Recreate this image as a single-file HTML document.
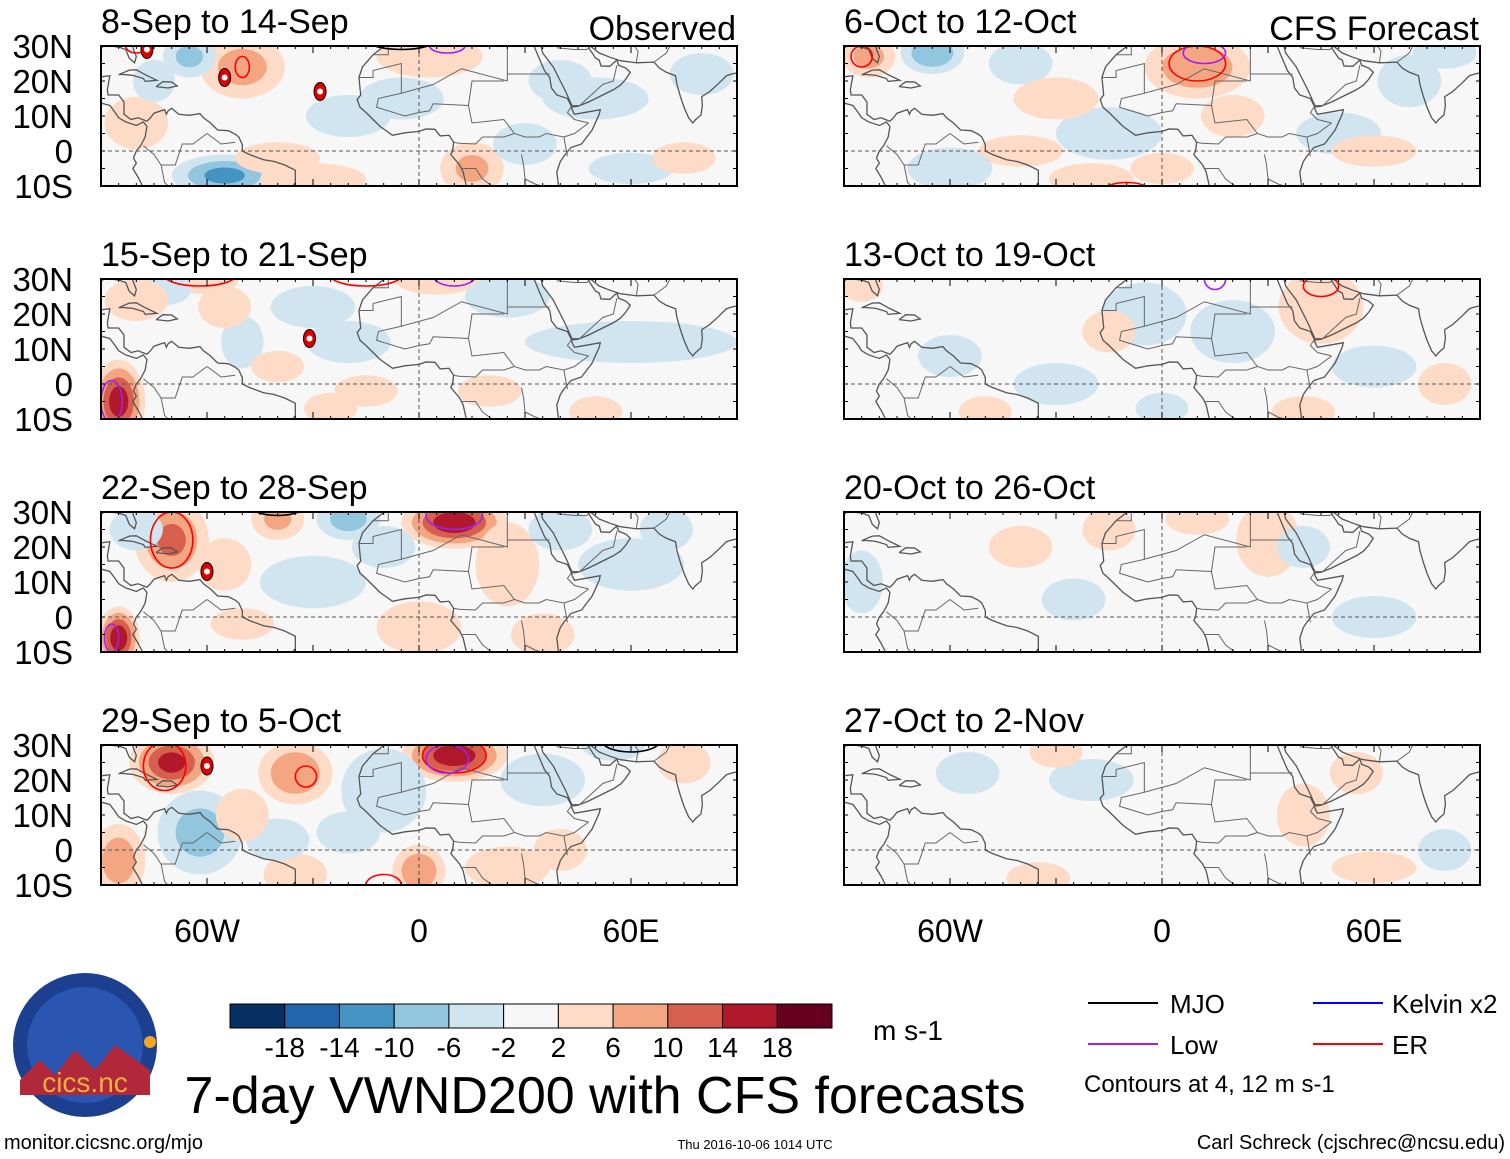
<!DOCTYPE html>
<html><head><meta charset="utf-8">
<style>
html,body{margin:0;padding:0;background:#fff;}
svg{display:block;font-family:"Liberation Sans",sans-serif;}
</style></head>
<body>
<svg id="chart" width="1510" height="1159" viewBox="0 0 1510 1159" xmlns="http://www.w3.org/2000/svg">
<g id="layer"></g>
<g>
<circle cx="85" cy="1045" r="72" fill="#1d3f8f"/>
<circle cx="85" cy="1045" r="58" fill="#2a55b0"/>
<path d="M20,1080 L40,1060 L55,1075 L75,1050 L95,1070 L115,1045 L150,1070 L150,1095 L20,1095 Z" fill="#b0283a"/>
<circle cx="150" cy="1042" r="6" fill="#f3a620"/>
<text x="85" y="1092" text-anchor="middle" font-size="28" fill="#f0b040">cics.nc</text>
</g>
<text x="605" y="1113" text-anchor="middle" font-size="52">7-day VWND200 with CFS forecasts</text>
<text x="873" y="1040" font-size="28">m s-1</text>
<text x="4" y="1149" font-size="20">monitor.cicsnc.org/mjo</text>
<text x="755" y="1149" text-anchor="middle" font-size="13">Thu 2016-10-06 1014 UTC</text>
<text x="1505" y="1149" text-anchor="end" font-size="20">Carl Schreck (cjschrec@ncsu.edu)</text>
<g font-size="26">
<line x1="1088" y1="1003" x2="1158" y2="1003" stroke="#000" stroke-width="2"/><text x="1170" y="1013">MJO</text>
<line x1="1088" y1="1044" x2="1158" y2="1044" stroke="#a020f0" stroke-width="2"/><text x="1170" y="1054">Low</text>
<line x1="1313" y1="1003" x2="1383" y2="1003" stroke="#0000ff" stroke-width="2"/><text x="1392" y="1013">Kelvin x2</text>
<line x1="1313" y1="1044" x2="1383" y2="1044" stroke="#ff0000" stroke-width="2"/><text x="1392" y="1054">ER</text>
<text x="1084" y="1092" font-size="24">Contours at 4, 12 m s-1</text>
</g>
</svg>
<script>
// ---- data ----
const panelTitles = ["8-Sep to 14-Sep","15-Sep to 21-Sep","22-Sep to 28-Sep","29-Sep to 5-Oct","6-Oct to 12-Oct","13-Oct to 19-Oct","20-Oct to 26-Oct","27-Oct to 2-Nov"];
const latTicks = ["30N","20N","10N","0","10S"];
const latValues = [30,20,10,0,-10];
const lonTicks = ["60W","0","60E"];
const lonValues = [-60,0,60];
const cbLabels = ["-18","-14","-10","-6","-2","2","6","10","14","18"];
const cbColors = ["#053061","#2166ac","#4393c3","#92c5de","#d1e5f0","#f7f7f7","#fddbc7","#f4a582","#d6604d","#b2182b","#67001f"];
// anomaly blobs: [lon, lat, lonRadius, latRadius, value m/s]
const blobs0 = [[-50,24,8,6,8],[-80,8,6,5,3],[-55,-7,10,4,-11],[-65,27,5,4,-7],[3,27,10,4,4],[15,-5,6,5,7],[30,2,6,4,-3],[-30,-8,10,3,3],[60,-5,8,3,-3],[75,-2,6,3,3],[-20,10,8,4,-3],[80,22,6,4,-3],[40,20,6,4,-3],[-75,20,4,4,-4],[-40,-2,8,3,3],[50,15,10,4,-3],[-5,15,8,4,-3]];
const blobs1 = [[-85,-5,5,8,16],[-60,30,6,3,6],[-72,27,5,3,-4],[-50,12,4,5,-4],[-30,22,8,4,-4],[-20,12,8,4,-5],[5,30,8,3,5],[-15,-2,6,3,3],[20,-2,6,3,4],[-40,5,5,3,3],[60,12,20,4,-3],[-25,-7,5,3,4],[50,-8,5,3,3],[-80,24,6,4,4],[-55,22,5,4,3],[25,25,8,4,-3]];
const blobs2 = [[-70,22,7,8,11],[10,27,10,5,17],[-85,-6,4,6,17],[-20,28,6,4,-8],[-40,28,5,4,7],[-80,25,5,4,-6],[0,-3,8,5,5],[25,15,6,8,5],[40,25,6,4,-4],[60,15,10,5,-3],[70,25,5,4,-4],[-50,-2,6,3,3],[-30,10,10,5,-3],[-55,15,5,5,4],[-10,20,6,4,-3],[35,-5,6,4,3]];
const blobs3 = [[-70,25,8,6,15],[-62,5,8,8,-8],[-35,22,7,6,10],[10,27,10,5,17],[0,-6,5,5,10],[-85,-3,5,7,9],[-35,-7,6,4,6],[-10,17,8,8,-6],[35,20,8,5,-6],[25,-5,8,4,4],[55,30,6,3,-4],[75,25,5,4,4],[-40,3,6,4,-4],[40,0,5,4,4],[-50,10,5,5,4],[-20,5,6,4,-3]];
const blobs4 = [[-65,28,6,4,-10],[-83,27,5,4,8],[10,24,10,6,10],[-15,5,10,5,-4],[-40,0,8,3,3],[20,10,6,4,4],[-20,-8,8,3,4],[0,-5,6,3,3],[50,5,8,4,-3],[70,20,6,5,-3],[60,0,8,3,3],[-60,-5,8,4,-3],[-40,25,6,4,-3],[80,28,6,3,-4],[-30,15,8,4,3]];
const blobs5 = [[45,22,8,7,6],[20,15,8,6,-3],[-5,20,8,6,-4],[-85,28,4,3,6],[-60,8,6,4,-3],[80,0,5,4,3],[40,-8,6,3,3],[60,5,8,4,-3],[-30,0,8,4,-3],[0,-7,5,3,-3],[-15,15,5,4,3],[-50,-8,5,3,3]];
const blobs6 = [[30,22,6,7,5],[-25,5,6,4,-3],[10,28,6,3,3],[-85,10,4,6,-3],[60,0,8,4,-3],[40,20,5,4,-3],[-15,25,5,4,3],[-40,20,6,4,3]];
const blobs7 = [[40,10,5,6,3],[-55,22,6,4,-3],[-20,20,8,4,-3],[60,-5,8,3,3],[-30,28,5,3,3],[80,0,5,4,-3],[55,22,5,4,3],[-35,-8,6,3,3]];
const allBlobs = [blobs0,blobs1,blobs2,blobs3,blobs4,blobs5,blobs6,blobs7];
// contours: [lon, lat, lonRadius, latRadius, type]
const contours0 = [[-50,24,2,3,"er"],[-80,30,3,2,"er"],[8,30,5,2,"low"],[-5,32,10,3,"mjo"]];
const contours1 = [[-62,31,10,3,"er"],[-15,31,10,3,"er"],[10,31,6,3,"low"],[-87,-5,3,6,"low"]];
const contours2 = [[-70,22,6,8,"er"],[10,29,8,4,"low"],[-40,32,8,3,"mjo"],[-87,-6,2,4,"low"]];
const contours3 = [[-72,24,6,7,"er"],[-32,21,3,3,"er"],[10,27,9,5,"er"],[8,26,6,4,"low"],[60,31,8,3,"mjo"],[-10,-10,5,3,"er"]];
const contours4 = [[-85,27,3,3,"er"],[10,25,8,5,"er"],[12,28,6,3,"low"],[-10,-11,6,2,"er"]];
const contours5 = [[15,30,3,3,"low"],[45,28,5,3,"er"]];
const contours6 = [];
const contours7 = [];
const allContours = [contours0,contours1,contours2,contours3,contours4,contours5,contours6,contours7];
// storm markers: [lon, lat]
const storms0 = [[-77,29],[-55,21],[-28,17]];
const storms1 = [[-31,13]];
const storms2 = [[-60,13]];
const storms3 = [[-60,24]];
const allStorms = [storms0,storms1,storms2,storms3,[],[],[],[]];
// coastlines [lon,lat]
const coastAfrica = [[-9.8,30],[-13,27.5],[-16,24],[-17,21],[-16.5,16],[-17.5,14.7],[-16.7,12.5],[-15,11],[-13,9],[-11,7],[-7.5,4.5],[-4,5.2],[0,5.6],[2,6.3],[4.5,6.2],[6,4.3],[8.5,4.5],[9.8,2.5],[9.5,0],[9,-1],[11.5,-4],[12.5,-6],[13.4,-10]];
const coastEastAfrica = [[39.5,-10],[39,-6],[40,-3],[41,-1.5],[43,1],[46,2],[49,6],[51,10.5],[51.3,11.8],[48,11.2],[44,10.5],[43.3,11.9],[43,13],[42,15],[39,16],[37.5,18],[37,21],[35.5,23],[34,26.5],[32.6,29.9],[32.5,30.5]];
const coastAsia = [[34.5,30],[35,28],[36.5,26],[38,24],[39,22],[40,20],[41.5,17],[42.8,14],[43.5,12.6],[45,12.8],[48,14],[52,16],[55,17.5],[57,18.8],[58.5,20.5],[59.8,22.5],[58.5,23.7],[56.5,24.5],[56,26],[54,24.2],[51.5,24.3],[51,26],[50,26.5],[48,29.5],[48.5,30],[51,28],[54,26.8],[57,25.8],[61.5,25.2],[66.5,25.4],[68,23.7],[70,22.5],[72.6,21.5],[73,19],[74,15.5],[75,12.5],[76.3,9.5],[77.5,8],[78.2,8.9],[79.8,10.3],[80.2,13],[80,15.5],[82.3,17],[84.8,19.3],[87,21.5],[88.5,22],[91,22.5]];
const coastSAmericaW = [[-90,13.7],[-87.5,13],[-86,11],[-85,9.5],[-83,8.3],[-80,7.3],[-78,8.3],[-77,7],[-77.5,4],[-78.8,1.5],[-80,0],[-80.8,-2],[-80,-3.5],[-81,-5],[-79.5,-7.5],[-78,-10.5]];
const coastSAmericaN = [[-90,21.2],[-87.5,21.5],[-88.2,17.5],[-88,16],[-85,16],[-83.5,14],[-83.5,10.5],[-81.5,9],[-79.5,9.5],[-77,8.5],[-76,9.5],[-75,10.8],[-73,11.5],[-72,11.8],[-71.5,10.5],[-71,11.5],[-70,12.2],[-68,10.5],[-65,10.2],[-62,10.7],[-61,9.5],[-59,8],[-57,6],[-54,5.8],[-52,4.8],[-51,4],[-50,1.8],[-50,0],[-48,-1],[-44,-2.5],[-41,-3],[-38,-4],[-35,-5.5],[-35,-9],[-36,-10.5]];
const coastFlorida = [[-90,29.3],[-89,30.2],[-85,29.7],[-83,29],[-82,26.5],[-80.5,25.2],[-80,27],[-80.6,28.5],[-81.3,30.5]];
const coastCuba = [[-85,21.8],[-82,23.1],[-80,23.2],[-77.5,21.8],[-74.2,20.2],[-77.5,19.9],[-78,20.7],[-81,21.6],[-84,21.9],[-85,21.8]];
const coastHispaniola = [[-74.4,18.4],[-72.5,19.8],[-70,19.7],[-68.4,18.6],[-71,18],[-74.4,18.4]];
const coastMadagascar = [[49.3,-12],[50.3,-15],[47,-15.5],[44,-17]];
const coasts = [coastAfrica,coastEastAfrica,coastAsia,coastSAmericaW,coastSAmericaN,coastFlorida,coastCuba,coastHispaniola,coastMadagascar];
const borders = [[[-13,27.5],[-8.7,27.5],[-8.7,30]],[[-17,21],[-13,21],[-13,23],[-5,25],[-5,16.5],[4,19],[12,23.5],[25,20],[25,30]],[[25,22],[37,22]],[[-5,16.5],[-11.5,15],[-12,12.5],[-4,10],[0,11],[3,11.5],[4,13.5],[14,13],[15,8],[24,9],[27,5],[30,4],[34,4],[36,5],[41,4],[42,-1.5]],[[9.8,2.5],[11.3,2.2],[16,2],[18,4],[24,4],[27,5]],[[12,-5],[16,-5],[18,-8],[22,-11]],[[29,-1],[29.6,-4],[30,-8],[33,-9.5],[38,-11]],[[14,13],[15,20],[24,20]],[[-60,5],[-62,3.5],[-64,2],[-67,2],[-69,-4],[-73,-4],[-75,-1],[-78,1.5]],[[-60,5],[-56,2],[-52,2.5]],[[-73,-4],[-72,-9],[-70,-11]],[[43,13],[45.5,13],[52,19],[55,20],[56,24.5]],[[39,29.5],[44,29],[47.5,29],[48.5,30]],[[61.5,25.2],[62,28.5],[61,30]],[[66.5,25.4],[70,28],[71,30]],[[48,8],[44,5],[41,4]],[[43,12.5],[42,11],[44,9],[48,8]]];

// ---- layout ----
const NS="http://www.w3.org/2000/svg";
const layer=document.getElementById('layer');
const panelX=[101,844];
const panelY=[46,279,512,745];
const PW=636, PH=140;
const BLOB_SCALE=1.5;
function el(tag,attrs,parent){const e=document.createElementNS(NS,tag);for(const k in attrs)e.setAttribute(k,attrs[k]);(parent||layer).appendChild(e);return e;}
function colorFor(v){const edges=[-18,-14,-10,-6,-2,2,6,10,14,18];let i=0;while(i<edges.length&&v>=edges[i])i++;return cbColors[i];}
const contourColor={er:"#ff0000",low:"#a020f0",mjo:"#000000",kelvin:"#0000ff"};

for(let p=0;p<8;p++){
  const col=p<4?0:1,row=p%4;
  const x0=panelX[col],y0=panelY[row];
  const xs=lon=>x0+(lon+90)/180*PW;
  const ys=lat=>y0+(30-lat)/40*PH;
  const kx=PW/180,ky=PH/40;
  const g=el('g',{});
  
  
  const cp=el('clipPath',{id:'clip'+p},g);
  el('rect',{x:x0,y:y0,width:PW,height:PH},cp);
  el('rect',{x:x0,y:y0,width:PW,height:PH,fill:'#f7f7f7'},g);
  const inner=el('g',{'clip-path':'url(#clip'+p+')'},g);
  allBlobs[p].forEach(b=>{
    const [lon,lat,rl,rt,v]=b;const a=Math.abs(v),s=Math.sign(v);
    for(let lv=2;lv<a;lv+=4){
      const f=BLOB_SCALE*(1-0.85*(lv-2)/a);
      const e=el('ellipse',{cx:xs(lon),cy:ys(lat),rx:rl*kx*f,ry:rt*ky*f,fill:colorFor(s*(lv+0.5))},inner);
      
      
    }
  });
  coasts.forEach(c=>{
    const pl=el('polyline',{points:c.map(q=>xs(q[0])+','+ys(q[1])).join(' '),fill:'none',stroke:'#555','stroke-width':1.3},inner);
    
    
  });
  borders.forEach(c=>{
    const pl=el('polyline',{points:c.map(q=>xs(q[0])+','+ys(q[1])).join(' '),fill:'none',stroke:'#666','stroke-width':1},inner);
    
    
  });
  el('line',{x1:x0,y1:ys(0),x2:x0+PW,y2:ys(0),stroke:'#555','stroke-dasharray':'4,3','stroke-width':1},inner);
  el('line',{x1:xs(0),y1:y0,x2:xs(0),y2:y0+PH,stroke:'#555','stroke-dasharray':'4,3','stroke-width':1},inner);
  allContours[p].forEach(c=>{
    const e=el('ellipse',{cx:xs(c[0]),cy:ys(c[1]),rx:c[2]*kx,ry:c[3]*ky,fill:'none',stroke:contourColor[c[4]],'stroke-width':1.6},inner);
    
    
  });
  allStorms[p].forEach(s=>{
    const sg=el('g',{},inner);
    
    
    el('ellipse',{cx:xs(s[0]),cy:ys(s[1]),rx:6,ry:9,fill:'#e00000',stroke:'#000','stroke-width':1},sg);
    el('circle',{cx:xs(s[0]),cy:ys(s[1]),r:3,fill:'#fff'},sg);
  });
  el('rect',{x:x0,y:y0,width:PW,height:PH,fill:'none',stroke:'#000','stroke-width':2},g);
  for(let lon=-90;lon<=90;lon+=5){
    const len=lon%30===0?7:3;
    el('line',{x1:xs(lon),y1:y0,x2:xs(lon),y2:y0+len,stroke:'#000','stroke-width':1},g);
    el('line',{x1:xs(lon),y1:y0+PH,x2:xs(lon),y2:y0+PH-len,stroke:'#000','stroke-width':1},g);
  }
  for(let lat=-10;lat<=30;lat+=5){
    el('line',{x1:x0,y1:ys(lat),x2:x0+4,y2:ys(lat),stroke:'#000'},g);
    el('line',{x1:x0+PW,y1:ys(lat),x2:x0+PW-4,y2:ys(lat),stroke:'#000'},g);
  }
  const t=el('text',{x:x0,y:y0-13,'font-size':34});
  t.textContent=panelTitles[p];
  
  
  if(row===0){
    const r=el('text',{x:x0+PW-1,y:y0-6,'font-size':34,'text-anchor':'end'});
    r.textContent=col===0?'Observed':'CFS Forecast';
    
    
  }
  if(col===0){
    latTicks.forEach((lab,i)=>{
      const tt=el('text',{x:73,y:ys(latValues[i])+12,'font-size':33,'text-anchor':'end'});
      tt.textContent=lab;
      
      
    });
  }
  if(row===3){
    lonTicks.forEach((lab,i)=>{
      const tt=el('text',{x:xs(lonValues[i]),y:942,'font-size':32,'text-anchor':'middle'});
      tt.textContent=lab;
      
      
    });
  }
}
const cbX=230,cbY=1004,cbW=602,cbH=24,bw=cbW/cbColors.length;
const cbg=el('g',{});


cbColors.forEach((c,i)=>{
  el('rect',{x:cbX+i*bw,y:cbY,width:bw,height:cbH,fill:c,stroke:'#000','stroke-width':1},cbg);
});
cbLabels.forEach((lab,i)=>{
  const tt=el('text',{x:cbX+(i+1)*bw,y:1057,'font-size':28,'text-anchor':'middle'},cbg);
  tt.textContent=lab;
  
  
});
</script>
</body></html>
